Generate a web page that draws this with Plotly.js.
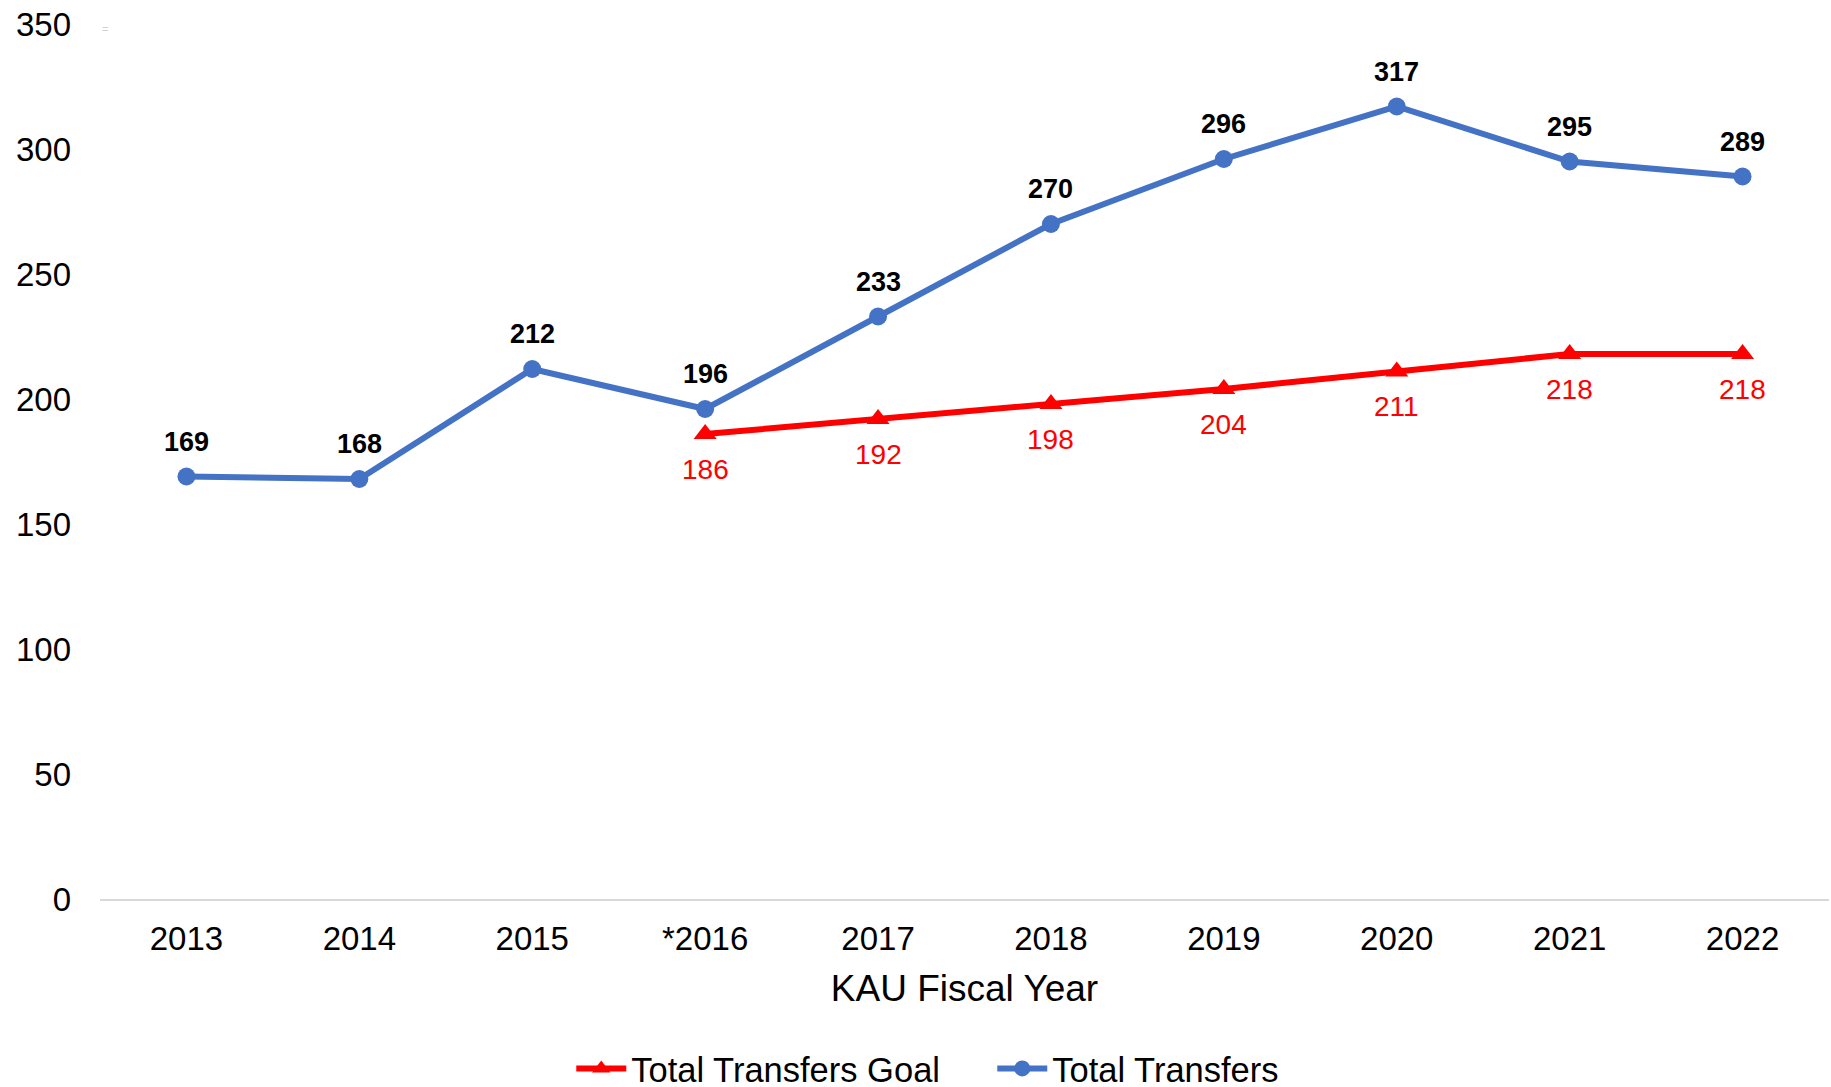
<!DOCTYPE html>
<html>
<head>
<meta charset="utf-8">
<script src="https://cdn.plot.ly/plotly-3.0.1.min.js"></script>
<style>html,body{margin:0;padding:0;background:#fff;}#chart{width:1831px;height:1087px;}</style>
</head>
<body>
<div id="chart"></div>
<script>
const years = ["2013","2014","2015","*2016","2017","2018","2019","2020","2021","2022"];
const totalTransfers = [169,168,212,196,233,270,296,317,295,289];
const goalYears = ["*2016","2017","2018","2019","2020","2021","2022"];
const goalValues = [186,192,198,204,211,218,218];
const yTicks = [0,50,100,150,200,250,300,350];

const FONT = '"Liberation Sans", Arial, sans-serif';
const BLUE = '#4472C4';
const RED = '#FF0000';

const traces = [
  {
    x: goalYears, y: goalValues, type: 'scatter', mode: 'lines+markers',
    name: 'Total Transfers Goal',
    line: {color: RED, width: 6},
    marker: {symbol: 'triangle-up', size: 20, color: RED},
    hoverinfo: 'x+y'
  },
  {
    x: years, y: totalTransfers, type: 'scatter', mode: 'lines+markers',
    name: 'Total Transfers',
    line: {color: BLUE, width: 6},
    marker: {symbol: 'circle', size: 18, color: BLUE},
    hoverinfo: 'x+y'
  }
];

// category index positions (annotations on a category axis take the index)
const annotations = [];
years.forEach((c, i) => annotations.push({
  x: years.indexOf(c), y: totalTransfers[i], xref: 'x', yref: 'y', text: String(totalTransfers[i]),
  showarrow: false, yshift: 35, font: {family: FONT, size: 27, color: '#000', weight: 'bold'}
}));
goalYears.forEach((c, i) => annotations.push({
  x: years.indexOf(c), y: goalValues[i], xref: 'x', yref: 'y', text: String(goalValues[i]),
  showarrow: false, yshift: -35, font: {family: FONT, size: 28, color: RED}
}));
annotations.push({
  xref: 'paper', yref: 'y', x: 0, y: 348, xanchor: 'left', yanchor: 'middle',
  text: '=', showarrow: false, font: {family: FONT, size: 11, color: '#d0d0d0'}
});

const layout = {
  width: 1831, height: 1087,
  margin: {l: 100, r: 2, t: 24, b: 188},
  paper_bgcolor: '#fff', plot_bgcolor: '#fff',
  font: {family: FONT, color: '#000'},
  showlegend: true,
  legend: {
    orientation: 'h', xref: 'container', yref: 'container',
    x: 0.312, xanchor: 'left', y: 0.017, yanchor: 'middle',
    font: {family: FONT, size: 34.5, color: '#000'},
    traceorder: 'normal', itemwidth: 50, entrywidth: 356, entrywidthmode: 'pixels'
  },
  xaxis: {
    type: 'category', categoryorder: 'array', categoryarray: years,
    range: [-0.5, years.length - 0.5], autorange: false,
    showgrid: false, zeroline: false,
    showline: true, linecolor: '#d9d9d9', linewidth: 2,
    ticks: '', ticklabelstandoff: 9,
    tickfont: {family: FONT, size: 33, color: '#000'},
    title: {text: 'KAU Fiscal Year', font: {family: FONT, size: 37, color: '#000'}, standoff: 20}
  },
  yaxis: {
    range: [0, 350], autorange: false, tickvals: yTicks, ticktext: yTicks.map(String),
    showgrid: false, zeroline: false, showline: false,
    ticks: '', ticklabelstandoff: 28,
    tickfont: {family: FONT, size: 33, color: '#000'}
  },
  annotations: annotations
};

Plotly.newPlot('chart', traces, layout, {displayModeBar: false, staticPlot: true});
</script>
</body>
</html>
